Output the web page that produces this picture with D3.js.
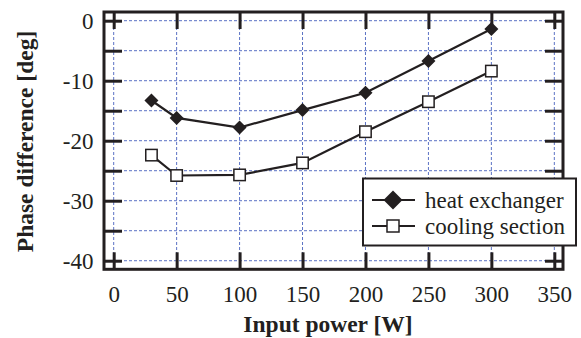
<!DOCTYPE html>
<html>
<head>
<meta charset="utf-8">
<script src="https://cdn.jsdelivr.net/npm/d3@7"></script>
</head>
<body style="margin:0">
<script>
// data
const power = [30, 50, 100, 150, 200, 250, 300];
const heatExchanger = [-13.3, -16.2, -17.8, -14.9, -12.0, -6.7, -1.4];
const coolingSection = [-22.4, -25.8, -25.7, -23.7, -18.5, -13.5, -8.4];
const xTicks = [0, 50, 100, 150, 200, 250, 300, 350];
const yTicks = [0, -10, -20, -30, -40];
const yMinor = [0, -5, -10, -15, -20, -25, -30, -35, -40];
const legendItems = ["heat exchanger", "cooling section"];

const plotLeft = 104, plotRight = 563, plotTop = 12, plotBottom = 269.3;
const ink = "#231f20";
const gridColor = "#5b72c4";
const fontName = "\"Liberation Serif\"";

const svg = d3.select("body").append("svg").attr("width", 581).attr("height", 338);

const x = d3.scaleLinear().domain([-7.7, 356.9]).range([plotLeft, plotRight]);
const y = d3.scaleLinear().domain([-41.43, 1.45]).range([plotBottom, plotTop]);

// grid
svg.append("g").selectAll("line")
  .data(xTicks).enter().append("line")
  .attr("x1", d => x(d)).attr("x2", d => x(d))
  .attr("y1", plotTop).attr("y2", plotBottom)
  .attr("stroke", gridColor).attr("stroke-width", 1)
  .attr("stroke-dasharray", "3,2");

svg.append("g").selectAll("line")
  .data(yMinor).enter().append("line")
  .attr("x1", plotLeft).attr("x2", plotRight)
  .attr("y1", d => y(d)).attr("y2", d => y(d))
  .attr("stroke", gridColor).attr("stroke-width", 1)
  .attr("stroke-dasharray", "3,2");

// axes with inward ticks
const styleAxis = g => {
  g.attr("font-family", null).attr("font-size", null);
  g.select(".domain").remove();
  g.selectAll(".tick line").attr("stroke", ink).attr("stroke-width", 3);
  g.selectAll(".tick text").attr("fill", ink).attr("font-size", 23)
    .style("font-family", fontName);
};

svg.append("g")
  .attr("transform", "translate(0," + plotBottom + ")")
  .call(d3.axisBottom(x).tickValues(xTicks).tickSize(-17).tickPadding(16).tickFormat(d3.format("d")))
  .call(styleAxis);

svg.append("g")
  .attr("transform", "translate(0," + plotTop + ")")
  .call(d3.axisTop(x).tickValues(xTicks).tickSize(-17).tickFormat(""))
  .call(styleAxis);

svg.append("g")
  .attr("transform", "translate(" + plotLeft + ",0)")
  .call(d3.axisLeft(y).tickValues(yMinor).tickSize(-18).tickPadding(10.5)
    .tickFormat(d => yTicks.includes(d) ? String(d) : ""))
  .call(styleAxis);

svg.append("g")
  .attr("transform", "translate(" + plotRight + ",0)")
  .call(d3.axisRight(y).tickValues(yMinor).tickSize(-18).tickFormat(""))
  .call(styleAxis);

// frame
svg.append("rect")
  .attr("x", plotLeft).attr("y", plotTop)
  .attr("width", plotRight - plotLeft).attr("height", plotBottom - plotTop)
  .attr("fill", "none").attr("stroke", ink).attr("stroke-width", 3);

// series
const line = d3.line().x(d => x(d[0])).y(d => y(d[1]));
const hx = power.map((p, i) => [p, heatExchanger[i]]);
const cs = power.map((p, i) => [p, coolingSection[i]]);

svg.append("path").datum(cs).attr("d", line)
  .attr("fill", "none").attr("stroke", ink).attr("stroke-width", 2.2);
svg.append("path").datum(hx).attr("d", line)
  .attr("fill", "none").attr("stroke", ink).attr("stroke-width", 2.2);

const diamond = 7, square = 5.7;
svg.append("g").selectAll("rect").data(cs).enter().append("rect")
  .attr("x", d => x(d[0]) - square).attr("y", d => y(d[1]) - square)
  .attr("width", square * 2).attr("height", square * 2)
  .attr("fill", "#fff").attr("stroke", ink).attr("stroke-width", 1.5);

svg.append("g").selectAll("path").data(hx).enter().append("path")
  .attr("transform", d => "translate(" + x(d[0]) + "," + y(d[1]) + ")")
  .attr("d", "M0," + (-diamond) + "L" + diamond + ",0L0," + diamond + "L" + (-diamond) + ",0Z")
  .attr("fill", ink);

// legend
const lg = svg.append("g");
lg.append("rect")
  .attr("x", 363).attr("y", 178.5).attr("width", 213).attr("height", 67)
  .attr("fill", "#fff").attr("stroke", ink).attr("stroke-width", 2);

legendItems.forEach((name, i) => {
  const ly = 200 + i * 26;
  lg.append("line").attr("x1", 372).attr("x2", 415).attr("y1", ly).attr("y2", ly)
    .attr("stroke", ink).attr("stroke-width", 2.2);
  if (i === 0) {
    lg.append("path")
      .attr("transform", "translate(393," + ly + ")")
      .attr("d", "M0,-9.5L9.5,0L0,9.5L-9.5,0Z").attr("fill", ink);
  } else {
    lg.append("rect").attr("x", 393 - 6).attr("y", ly - 6).attr("width", 12).attr("height", 12)
      .attr("fill", "#fff").attr("stroke", ink).attr("stroke-width", 1.5);
  }
  lg.append("text").attr("x", 425).attr("y", ly + 8).attr("fill", ink)
    .attr("font-size", 23).style("font-family", fontName)
    .text(name);
});

// axis titles
svg.append("text")
  .attr("x", 328).attr("y", 332).attr("fill", ink)
  .attr("text-anchor", "middle")
  .attr("font-size", 23.5).attr("font-weight", "bold").style("font-family", fontName)
  .text("Input power [W]");

svg.append("text")
  .attr("transform", "translate(33,141.5)rotate(-90)").attr("fill", ink)
  .attr("text-anchor", "middle")
  .attr("font-size", 23.5).attr("font-weight", "bold").style("font-family", fontName)
  .text("Phase difference [deg]");
</script>
</body>
</html>
